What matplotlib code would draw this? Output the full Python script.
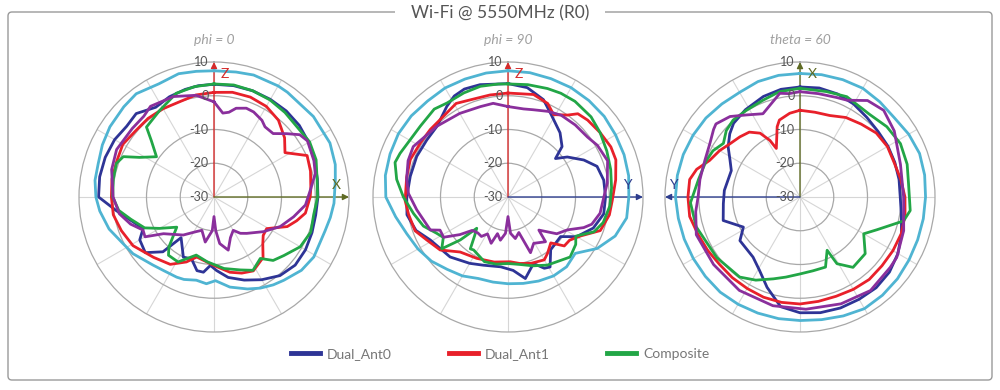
import numpy as np
import matplotlib
matplotlib.use("Agg")
import matplotlib.pyplot as plt
from matplotlib.patches import FancyBboxPatch
from matplotlib.lines import Line2D

plt.rcParams['font.family'] = ['Lato', 'DejaVu Sans']

TITLE = "Wi-Fi @ 5550MHz (R0)"
SUBTITLES = ["phi = 0", "phi = 90", "theta = 60"]
SERIES = ["Dual_Ant0", "Dual_Ant1", "Composite"]
R_TICKS = [-30, -20, -10, 0, 10]
A10 = list(range(0, 360, 10))

# ---------------- phi = 0 ----------------
P1_ANT0_A = [0, 10, 20, 30, 40, 50, 60, 70, 80, 90, 100, 110, 120, 130, 140, 150, 160, 170, 178, 183, 188, 193, 200, 207, 219, 223, 231, 240, 246, 262, 270, 280, 290, 300, 309, 317, 327, 336, 345, 352]
P1_ANT0_R = [3.4, 3.5, 3.5, 3.4, 3.3, 3.0, 2.4, 1.7, 1.1, 0.8, 0.6, 0.9, 1.3, 1.4, 0.4, -1.7, -3.8, -5.8, -8.2, -9.7, -7.5, -7.6, -10.5, -10.0, -14.5, -7.8, -3.8, -4.6, -7.0, -0.8, 4.2, 4.4, 4.3, 4.0, 3.3, 3.8, 1.7, 2.5, 3.0, 3.3]
P1_ANT1_A = [0, 10, 20, 30, 40, 50, 58, 66, 75, 85, 90, 100, 106, 112, 121, 128, 134, 141, 152, 160, 168, 180, 196, 203, 213, 225, 239, 250, 260, 270, 280, 290, 300, 310, 320, 330, 340, 350]
P1_ANT1_R = [1.0, 1.5, 1.5, 1.0, -0.3, -2.7, -5.2, 0.2, -0.4, -1.2, -1.5, -2.5, -4.5, -6.6, -11.8, -11.5, -9.9, -6.9, -5.2, -6.0, -7.2, -9.7, -11.5, -9.1, -6.2, -4.7, -2.0, -0.8, 0.3, 0.4, 0.7, 0.7, 1.2, 0.4, 0.4, 0.2, 0.0, 0.7]
P1_COMP_A = [0, 10, 20, 30, 40, 50, 60, 70, 80, 90, 100, 110, 120, 130, 137, 143, 152, 160, 172, 186, 197, 209, 218, 222, 231, 240, 246, 255, 262, 270, 280, 289, 294, 298, 305, 312, 316, 328, 340, 350]
P1_COMP_R = [3.5, 3.7, 3.5, 3.2, 2.7, 2.2, 2.7, 2.2, 1.0, 0.7, 0.0, 0.5, -0.5, -3.0, -4.3, -7.2, -5.4, -7.0, -8.6, -10.7, -12.0, -8.0, -8.1, -10.0, -15.8, -11.4, -7.5, -4.5, -1.5, 0.0, 0.3, 0.6, -0.6, -5.0, -9.2, -5.0, -1.2, 0.3, 2.7, 3.2]
P1_PURP_A = [0, 6, 10, 14, 20, 25, 32, 36, 43, 49, 54, 59, 70, 77, 86, 95, 104, 114, 125, 138, 144, 150, 158, 165, 173, 177, 180, 183, 191, 200, 207, 219, 234, 240, 245, 252, 260, 270, 285, 296, 310, 319, 325, 338, 350]
P1_PURP_R = [-1.8, -5.0, -4.5, -2.9, -2.0, -2.2, -3.2, -4.3, -4.3, -1.4, 1.4, 2.3, 1.5, 0.8, -1.4, -2.8, -5.7, -8.5, -12.1, -15.5, -16.7, -18.6, -17.0, -13.7, -16.1, -20.0, -24.2, -20.0, -16.4, -19.5, -18.5, -15.5, -11.5, -6.4, -6.8, -4.0, -1.5, -0.1, 1.4, 2.1, 1.6, 1.7, 2.8, 2.1, 0.6]
P1_CYAN_A = [0, 10, 18, 30, 35, 51, 65, 75, 82, 93, 100, 107, 121, 130, 140, 146, 153, 160, 170, 179, 185, 192, 200, 205, 214, 222, 235, 243, 253, 263, 270, 278, 286, 295, 304, 315, 323, 334, 344, 352]
P1_CYAN_R = [7.4, 7.6, 8.0, 8.0, 7.9, 7.9, 7.9, 7.2, 6.3, 5.6, 5.0, 4.4, 4.5, 3.8, 2.2, 1.4, 0.3, -1.0, -2.9, -5.2, -4.2, -4.8, -4.0, -3.8, -3.6, -2.9, -0.7, 0.3, 2.5, 4.1, 5.0, 5.6, 5.7, 6.5, 7.2, 7.8, 8.3, 7.3, 8.0, 7.6]

# ---------------- phi = 90 ----------------
P2_ANT0_A = [0, 10, 20, 27, 39, 47, 51, 56, 64, 71, 80, 90, 100, 110, 120, 127, 141, 149, 153, 159, 168, 176, 186, 200, 210, 224, 241, 250, 260, 270, 282, 294, 305, 315, 326, 332, 338, 346, 355]
P2_ANT0_R = [3.6, 2.9, 0.7, -2.2, -5.5, -8.1, -11.9, -8.8, -5.0, -2.1, -1.2, -1.1, -1.2, -3.1, -6.5, -10.5, -9.9, -5.8, -6.3, -8.9, -5.3, -8.2, -9.2, -8.5, -7.3, -5.3, -3.7, -1.0, 0.4, 0.0, -0.4, -0.4, -0.6, -0.3, 2.4, 3.9, 4.5, 4.3, 3.6]
P2_ANT1_A = [0, 14, 23, 29, 36, 40, 46, 55, 64, 71, 81, 92, 100, 110, 118, 125, 131, 137, 145, 150, 161, 170, 178, 192, 207, 221, 232, 242, 250, 260, 268, 281, 291, 302, 311, 321, 331, 340, 350]
P2_ANT1_R = [0.8, 1.3, 0.1, -2.1, 0.0, 2.2, 2.8, 3.3, 3.9, 3.8, 2.3, 0.9, 0.5, -0.9, -5.5, -7.7, -7.9, -11.4, -9.6, -8.5, -9.2, -10.0, -10.8, -10.3, -9.6, -8.4, -4.5, -2.8, -0.7, -0.1, 0.5, 0.6, 1.0, 0.5, 0.5, 0.6, 1.7, 0.8, 0.7]
P2_COMP_A = [0, 10, 20, 27, 35, 46, 55, 65, 75, 85, 95, 105, 112, 120, 125, 134, 150, 160, 170, 180, 190, 200, 213, 216, 221, 225, 228, 232, 238, 243, 251, 260, 270, 279, 287, 292, 300, 309, 320, 327, 337, 346, 355]
P2_COMP_R = [3.5, 3.8, 4.2, 4.5, 4.6, 4.2, 3.3, 2.3, 1.5, 0.8, 0.3, -0.8, -2.5, -6.8, -5.5, -4.4, -6.7, -8.3, -9.7, -10.3, -9.8, -9.6, -11.3, -11.0, -15.0, -16.9, -11.0, -5.1, -7.4, -6.3, -3.5, -1.6, 1.0, 3.4, 5.0, 4.5, 3.6, 3.4, 4.0, 3.2, 3.5, 3.8, 3.6]
P2_PURP_A = [0, 10, 16, 25, 33, 43, 53, 60, 70, 82, 90, 100, 108, 112, 119, 127, 137, 140, 151, 158, 163, 170, 176, 180, 184, 190, 196, 200, 209, 214, 220, 227, 232, 238, 244, 247, 262, 272, 280, 290, 298, 315, 330, 343, 351]
P2_PURP_R = [-3.2, -3.5, -3.1, -2.0, -1.1, -0.8, -0.5, 0.6, 1.4, -0.3, -1.6, -2.3, -3.9, -5.8, -9.9, -11.9, -16.6, -12.7, -14.3, -12.2, -19.0, -17.5, -19.2, -24.2, -19.2, -17.0, -18.7, -15.4, -17.5, -15.9, -16.1, -15.5, -11.9, -7.5, -7.6, -5.0, -2.7, -0.5, 0.5, 1.5, 1.8, -0.3, -1.4, -2.0, -1.9]
P2_CYAN_A = A10
P2_CYAN_R = [7.4, 7.4, 7.3, 7.4, 7.3, 7.2, 6.8, 6.6, 6.3, 5.8, 5.7, 3.8, 0.5, -4.0, -3.0, -3.0, -3.5, -4.0, -4.3, -4.4, -4.3, -3.0, -2.0, -0.4, 0.8, 1.9, 3.8, 6.2, 6.9, 7.2, 7.5, 7.4, 7.1, 7.3, 7.2, 7.3]

# ---------------- theta = 60 ----------------
P3_ANT0_A = [0, 10, 20, 30, 40, 50, 60, 70, 80, 90, 100, 110, 120, 130, 140, 150, 160, 170, 180, 190, 200, 209, 218, 234, 242, 253, 265, 275, 291, 298, 305, 312, 318, 328, 340, 350]
P3_ANT0_R = [2.6, 2.8, 2.5, 1.8, 0.8, 0.2, 0.1, -0.1, -0.2, -0.3, 0.5, 2.0, 3.5, 4.6, 5.1, 5.0, 5.0, 4.8, 4.3, 3.0, -1.5, -5.2, -7.4, -8.0, -11.0, -6.2, -7.2, -7.5, -8.2, -6.5, -4.0, -2.0, -0.6, 0.5, 1.7, 2.4]
P3_ANT1_A = [0, 10, 20, 30, 40, 50, 60, 70, 80, 90, 100, 110, 120, 130, 140, 150, 160, 170, 180, 190, 200, 210, 220, 230, 240, 250, 260, 270, 279, 285, 292, 300, 307, 315, 322, 328, 332, 334, 342, 345, 353]
P3_ANT1_R = [-4.3, -4.5, -4.3, -2.8, -1.8, -0.5, -0.1, -0.3, 0.3, 1.1, 1.6, 1.9, 1.8, 1.7, 1.9, 1.6, 1.3, 1.4, 1.7, 1.7, 1.6, 1.3, 1.2, 1.1, 1.6, 2.2, 3.2, 3.2, 3.1, 1.7, -1.1, -2.5, -3.9, -4.8, -5.6, -7.7, -11.0, -14.0, -8.1, -6.4, -5.0]
P3_COMP_A = [0, 14, 25, 40, 51, 62, 73, 83, 97, 103, 113, 120, 131, 143, 151, 153, 160, 170, 180, 190, 198, 208, 217, 234, 254, 267, 280, 291, 298, 305, 312, 319, 328, 339, 349]
P3_COMP_R = [2.2, 2.2, 2.8, 2.0, 3.1, 3.7, 3.2, 2.4, 2.9, 1.5, -5.2, -8.2, -4.4, -3.9, -7.4, -12.3, -7.9, -7.8, -7.2, -5.9, -4.5, -2.1, -0.3, 0.5, 2.0, 2.5, 0.5, -0.2, -0.8, -2.3, -0.6, 0.2, 0.2, 0.7, 1.8]
P3_PURP_A = [0, 10, 20, 26, 35, 44, 55, 72, 90, 108, 122, 128, 143, 159, 177, 194, 213, 232, 250, 262, 270, 280, 291, 301, 308, 311, 319, 327, 336, 349, 354]
P3_PURP_R = [1.2, 1.1, 1.4, 1.9, 4.9, 5.7, 4.1, 1.3, 0.7, 2.3, 3.8, 3.9, 4.7, 3.9, 3.3, 3.2, 3.0, 2.5, 2.7, 1.2, 0.2, 0.1, 0.2, 1.1, 2.5, 3.0, 1.6, -1.0, -3.0, 1.3, 0.8]
P3_CYAN_A = A10
P3_CYAN_R = [6.6, 6.8, 7.0, 7.2, 6.8, 6.5, 7.2, 7.7, 7.5, 7.2, 7.1, 7.1, 7.3, 7.7, 8.0, 8.2, 7.5, 6.9, 6.6, 6.6, 6.6, 6.7, 6.8, 6.6, 6.5, 6.5, 6.6, 6.9, 6.9, 6.8, 6.6, 6.4, 6.0, 5.8, 6.4, 6.6]

PLOTS = [
    [(P1_ANT0_A, P1_ANT0_R), (P1_ANT1_A, P1_ANT1_R), (P1_COMP_A, P1_COMP_R), (P1_PURP_A, P1_PURP_R), (P1_CYAN_A, P1_CYAN_R)],
    [(P2_ANT0_A, P2_ANT0_R), (P2_ANT1_A, P2_ANT1_R), (P2_COMP_A, P2_COMP_R), (P2_PURP_A, P2_PURP_R), (P2_CYAN_A, P2_CYAN_R)],
    [(P3_ANT0_A, P3_ANT0_R), (P3_ANT1_A, P3_ANT1_R), (P3_COMP_A, P3_COMP_R), (P3_PURP_A, P3_PURP_R), (P3_CYAN_A, P3_CYAN_R)],
]
COLORS = ['#2e3496', '#e8202a', '#22a646', '#8a2f9c', '#4fb4d2']
RED_Z, OLIVE_X, NAVY_Y = '#d42b2b', '#5f6b24', '#2d3d8e'
ARROWS = [
    [((0.5, 1.0), 'Z', RED_Z, (0.54, 0.955)), ((1.0, 0.5), 'X', OLIVE_X, (0.955, 0.545))],
    [((0.5, 1.0), 'Z', RED_Z, (0.54, 0.955)), ((1.0, 0.5), 'Y', NAVY_Y, (0.94, 0.545))],
    [((0.5, 1.0), 'X', OLIVE_X, (0.545, 0.955)), ((0.0, 0.5), 'Y', NAVY_Y, (0.03, 0.545))],
]
CENTERS_PX = [214, 508, 800]

W, H = 1000, 390
fig = plt.figure(figsize=(W / 100, H / 100), dpi=100)
fig.patch.set_facecolor('white')

frame = FancyBboxPatch((8 / W, 10 / H), 984 / W, 368 / H, boxstyle="round,pad=0,rounding_size=0.004",
                       mutation_aspect=W / H, transform=fig.transFigure, fill=False,
                       edgecolor='#9a9a9a', linewidth=1.0)
fig.add_artist(frame)
fig.text(0.5, 1 - 13 / H, TITLE, ha='center', va='center', fontsize=12.5, color='#555555',
         bbox=dict(boxstyle='square,pad=0.9', facecolor='white', edgecolor='none'))

R_PX = 135
for i, cx in enumerate(CENTERS_PX):
    ax = fig.add_axes([(cx - R_PX) / W, (H - 197 - R_PX) / H, 2 * R_PX / W, 2 * R_PX / H], projection='polar')
    ax.set_theta_zero_location('N')
    ax.set_theta_direction(-1)
    ax.set_ylim(R_TICKS[0], R_TICKS[-1])
    ax.set_yticks(R_TICKS[1:-1])
    ax.set_yticklabels([])
    ax.set_xticks(np.deg2rad(np.arange(0, 360, 30)))
    ax.set_xticklabels([])
    ax.yaxis.grid(True, color='#a8a8a8', linewidth=0.9)
    ax.xaxis.grid(True, color='#d6d6d6', linewidth=0.8)
    ax.spines['polar'].set_color('#a8a8a8')
    ax.spines['polar'].set_linewidth(0.9)
    ax.set_facecolor('none')
    for (ang, val), col in zip(PLOTS[i], COLORS):
        a = np.deg2rad(np.append(ang, ang[0]))
        v = np.append(val, val[0])
        ax.plot(a, v, color=col, linewidth=2.0, zorder=3, solid_joinstyle='round')
    for rv in R_TICKS:
        ax.annotate(str(rv), xy=(0, rv), xytext=(-4, 0), textcoords='offset points',
                    ha='right', va='center', fontsize=9, color='#555555', zorder=4)
    for end, lab, col, lpos in ARROWS[i]:
        ax.annotate('', xy=end, xytext=(0.5, 0.5), xycoords='axes fraction', textcoords='axes fraction',
                    arrowprops=dict(arrowstyle='-|>', color=col, lw=1.0, mutation_scale=9, shrinkA=0, shrinkB=0),
                    zorder=2, annotation_clip=False)
        ax.text(lpos[0], lpos[1], lab, transform=ax.transAxes, ha='center', va='center',
                fontsize=10, color=col, zorder=4)
    fig.text(cx / W, 1 - 40 / H, SUBTITLES[i], ha='center', va='center', fontsize=10,
             style='italic', color='#a0a0a0')

handles = [Line2D([0], [0], color=c, linewidth=3.5) for c in COLORS[:3]]
fig.legend(handles, SERIES, loc='center', bbox_to_anchor=(0.5, 1 - 354 / H), ncol=3, frameon=False,
           fontsize=10, handlelength=2.1, handletextpad=0.5, columnspacing=4.1, labelcolor='#777777')

fig.savefig('out.png', dpi=100, facecolor='white')
